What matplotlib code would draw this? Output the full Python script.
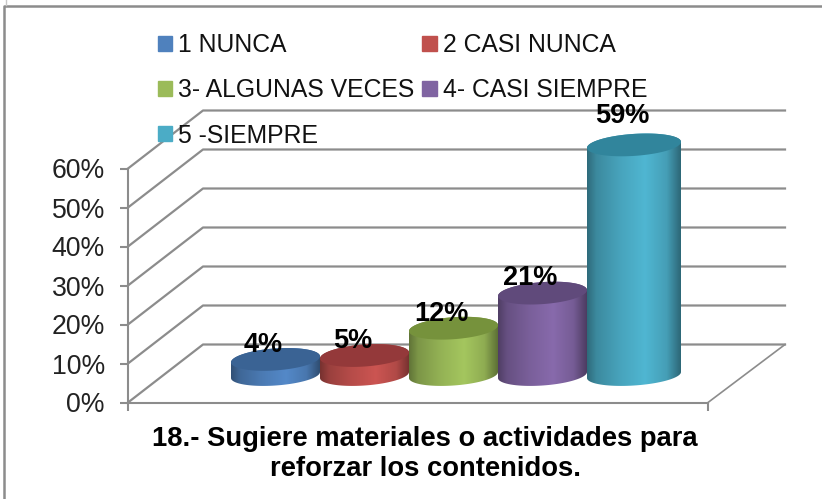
import numpy as np
import matplotlib.pyplot as plt
from matplotlib.patches import Patch, Polygon
from matplotlib.lines import Line2D

categories = ["1 NUNCA", "2 CASI NUNCA", "3- ALGUNAS VECES", "4- CASI SIEMPRE", "5 -SIEMPRE"]
values = [4, 5, 12, 21, 59]
value_labels = ["4%", "5%", "12%", "21%", "59%"]
y_ticks = [0, 10, 20, 30, 40, 50, 60]
y_tick_labels = ["0%", "10%", "20%", "30%", "40%", "50%", "60%"]
title = "18.- Sugiere materiales o actividades para\nreforzar los contenidos."

base_colors = ["#4f81bd", "#c0504d", "#9bbb59", "#8064a2", "#4bacc6"]
top_colors = ["#3a6394", "#94393a", "#76923c", "#604a7b", "#31859c"]
GRID = "#8c8c8c"

# layout, all from the pixel size of the picture
W, H = 822, 499
X0, Y0 = 128, 402.5
PX_X = 116.0  # pixels per category
PX_Y = 3.9  # pixels per percent
DEPTH_X = 75 / PX_X
DEPTH_Y = 58 / PX_Y
BAR_EDGES = np.array([231, 320, 409, 498, 587, 681])
BAR_BASE = 375
LABEL_SHIFT = -12
LABEL_LIFT = [14, 14, 14, 15, 29]


def dx(px):
    return (np.asarray(px) - X0) / PX_X


def dy(px):
    return (Y0 - np.asarray(px)) / PX_Y


def ellipse(cx, cy, a, b, t):
    # slightly tilted ellipse, left side lower than right
    return cx + a * np.cos(t), cy + b * np.sin(t) - 3 * np.cos(t)


def shade(color, n=200):
    rgb = np.array(plt.matplotlib.colors.to_rgb(color))
    stops = [0, 0.1, 0.35, 0.62, 0.85, 1]
    gains = [0.62, 0.8, 0.95, 1.06, 0.92, 0.6]
    g = np.interp(np.linspace(0, 1, n), stops, gains)
    return np.clip(g[None, :, None] * rgb[None, None, :], 0, 1)


def draw_bar(ax, i, z):
    left, right = BAR_EDGES[i], BAR_EDGES[i + 1]
    cx, a = (left + right) / 2, (right - left) / 2
    top = BAR_BASE - values[i] * PX_Y
    bx, by = ellipse(cx, BAR_BASE, a, 10.5, np.linspace(0, np.pi, 80))
    tx, ty = ellipse(cx, top, a, 11, np.linspace(np.pi, 2 * np.pi, 80))
    body = np.column_stack([dx(np.r_[bx, tx]), dy(np.r_[by, ty])])
    poly = Polygon(body, closed=True, transform=ax.transData, fc="none", ec="none")
    ax.add_patch(poly)
    im = ax.imshow(shade(base_colors[i]), extent=(dx(left), dx(right), dy(BAR_BASE + 20), dy(top - 20)),
                   aspect="auto", zorder=z, interpolation="bilinear")
    im.set_clip_path(poly)
    ex, ey = ellipse(cx, top, a, 11, np.linspace(0, 2 * np.pi, 120))
    ax.fill(dx(ex), dy(ey), color=top_colors[i], lw=0, zorder=z + 0.1)
    ax.text(dx(cx + LABEL_SHIFT), dy(top - LABEL_LIFT[i]), value_labels[i], ha="center", va="center",
            fontsize=19.5, fontweight="bold", color="black", zorder=20)


def main():
    plt.rcParams["font.family"] = ["Liberation Sans", "DejaVu Sans"]
    fig = plt.figure(figsize=(W / 100, H / 100), dpi=100)
    ax = fig.add_axes([0, 0, 1, 1])
    ax.patch.set_alpha(0)

    # walls and floor
    for v in y_ticks:
        xs = [0, DEPTH_X, dx(785)]
        ys = [v, v + DEPTH_Y, v + DEPTH_Y]
        ax.plot(xs, ys, color=GRID, lw=1.6, zorder=1, solid_joinstyle="round")
    ax.plot([5, dx(785)], [0, DEPTH_Y], color=GRID, lw=1.2, zorder=1)

    ax.spines[["top", "right"]].set_visible(False)
    for side in ["left", "bottom"]:
        ax.spines[side].set_color(GRID)
        ax.spines[side].set_linewidth(1.5)
        ax.spines[side].set_position(("data", 0))
    ax.spines["left"].set_bounds(0, 60)
    ax.spines["bottom"].set_bounds(0, 5)
    ax.set_yticks(y_ticks, y_tick_labels, fontsize=19.2)
    ax.set_xticks([0, 5], ["", ""])
    ax.tick_params(axis="both", color=GRID, width=1.5, length=5.8, direction="out", labelcolor="#222222", pad=10.8)

    for i in range(len(values)):
        draw_bar(ax, i, 5 + i)

    ax.set_xlim(dx(0), dx(W))
    ax.set_ylim(dy(H), dy(0))

    # filled column by column, so it reads row by row like the original
    order = [0, 2, 4, 1, 3]
    handles = [Patch(color=base_colors[i]) for i in order]
    labels = [categories[i] for i in order]
    fig.legend(handles, labels, ncol=2, loc="upper left", bbox_to_anchor=(158 / W, 1 - 33 / H), frameon=False,
               fontsize=17.8, handlelength=0.57, handleheight=0.57, handletextpad=0.25, labelspacing=0.86,
               columnspacing=0.32, borderpad=0, borderaxespad=0, labelcolor="#111111")

    fig.text(425 / W, 1 - 454 / H, title, ha="center", va="center", fontsize=19.7, fontweight="bold",
             linespacing=1.15, color="black")

    # picture frame
    fig.add_artist(Line2D([4 / W, 4 / W, 1], [0, 1 - 6 / H, 1 - 6 / H], color=GRID, lw=1.8))
    fig.add_artist(Line2D([6 / W, 6 / W], [1 - 5 / H, 1], color="#c8c8c8", lw=1))

    fig.savefig("out.png", dpi=100)
    plt.close(fig)


main()
